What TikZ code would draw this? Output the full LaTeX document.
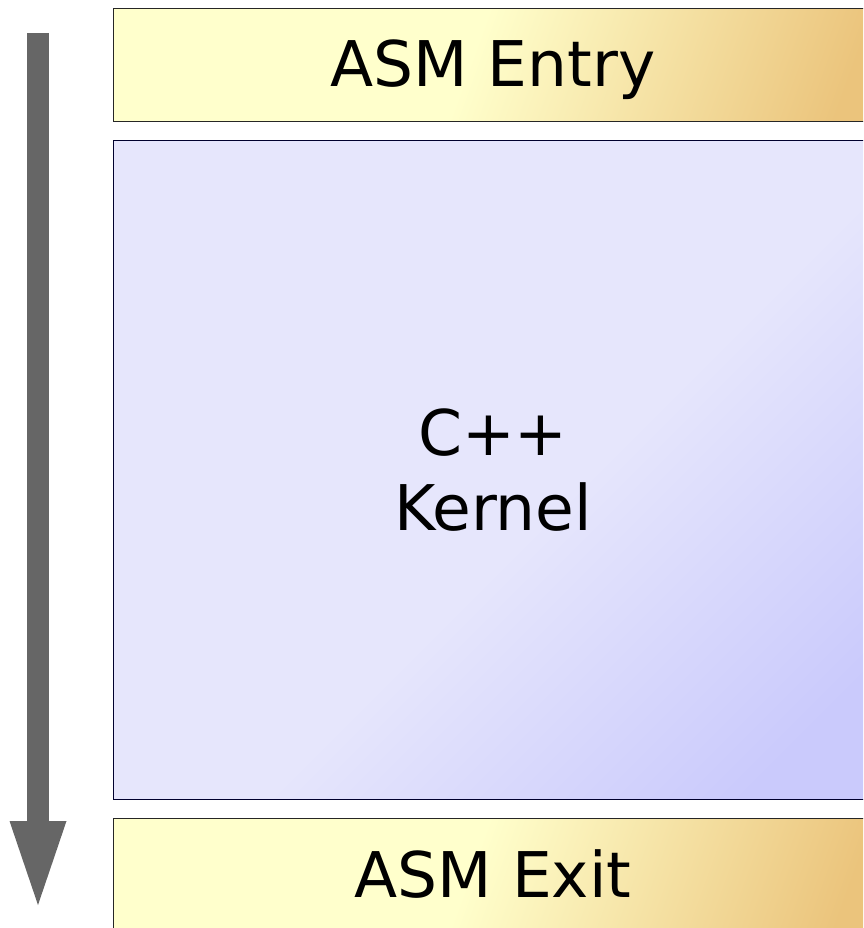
\documentclass[tikz,border=0pt]{standalone}
\usepackage{fontspec}
\setmainfont{DejaVu Sans}
\usetikzlibrary{positioning,arrows.meta}
\definecolor{asmlight}{HTML}{FFFFCC}
\definecolor{asmtan}{HTML}{EBC47C}
\definecolor{kernlight}{HTML}{E6E6FC}
\definecolor{kerndark}{HTML}{CACAFC}
\definecolor{flowgrey}{HTML}{666666}
\pgfdeclarehorizontalshading{asmfade}{100bp}{color(0bp)=(asmlight); color(25bp)=(asmlight);
  color(48bp)=(asmlight); color(79bp)=(asmtan); color(100bp)=(asmtan)}
\pgfdeclarehorizontalshading{kernfade}{100bp}{color(0bp)=(kernlight); color(25bp)=(kernlight);
  color(55bp)=(kernlight); color(79bp)=(kerndark); color(100bp)=(kerndark)}

\begin{document}
\begin{tikzpicture}[x=1pt, y=-1pt,
      asmbox/.style={draw=black!85, line width=0.8pt, shading=asmfade, shading angle=-20,
                     minimum width=760pt, minimum height=113pt, outer sep=0pt,
                     text height=46pt, text depth=2pt,
                     font=\fontsize{63}{75}\selectfont},
      kernbox/.style={draw=black!70!blue!60!black, line width=0.8pt, shading=kernfade, shading angle=-45,
                      minimum width=760pt, minimum height=659pt, outer sep=0pt,
                      font=\fontsize{63}{75}\selectfont, align=center},
      flow/.style={draw=flowgrey, line width=22pt,
                   -{Triangle[width=57pt, length=84pt, line width=0pt, fill=flowgrey]}}
    ]
    \useasboundingbox (0,0) rectangle (863,928);
    \clip (0,0) rectangle (863,928);

    % Layers
    \node[asmbox] (entry) at (493,65) {ASM Entry};
    \node[kernbox, below=19pt of entry] (kernel) {C++\\Kernel};
    \node[asmbox, below=19pt of kernel] (exit) {ASM Exit};

    % Flow arrow
    \coordinate (flowtop) at (38,33);
    \coordinate (flowbot) at (38,905);
    \draw[flow] (flowtop) -- (flowbot);

  \end{tikzpicture}
\end{document}
